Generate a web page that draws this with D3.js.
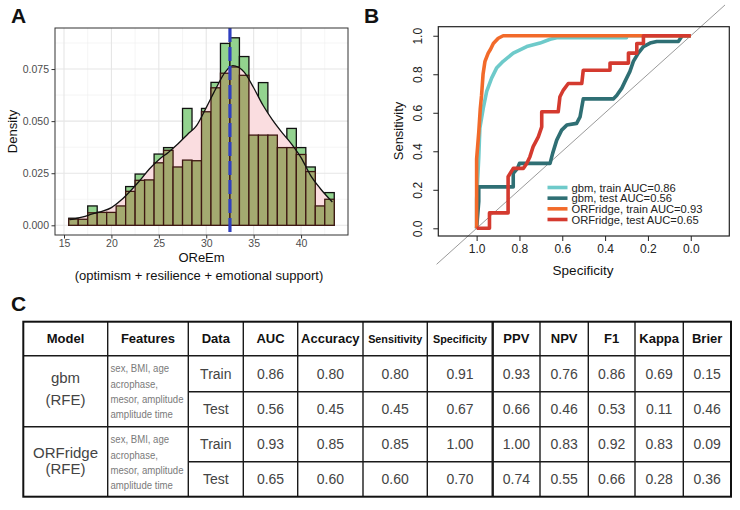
<!DOCTYPE html>
<html><head><meta charset="utf-8">
<script src="https://cdn.jsdelivr.net/npm/d3@7"></script>
<style>
body{margin:0;background:#fff;}
svg{display:block;font-family:"Liberation Sans",Arial,Helvetica,sans-serif;}
</style>
</head><body>
<svg id="fig" width="740" height="510"></svg>
<script>
// ---------------- DATA ----------------
// Panel A: histogram of OReEm (bin centers, width 1)
const binCenters = [16,17,18,19,20,21,22,23,24,25,26,27,28,29,30,31,32,33,34,35,36,37,38,39,40,41,42,43];
const greenDensity = [0.0034,0.0029,0.0093,0.0062,0.0062,0.0093,0.0186,0.0246,0.0218,0.0342,0.0373,0.0280,0.0561,0.0310,0.0561,0.0686,0.0873,0.0900,0.0810,0.0433,0.0685,0.0433,0.0373,0.0465,0.0373,0.0280,0.0093,0.0157];
const overlayDensity = [0.0030,0.0029,0.0060,0.0062,0.0062,0.0093,0.0163,0.0216,0.0218,0.0300,0.0360,0.0280,0.0313,0.0310,0.0545,0.0660,0.0730,0.0760,0.0720,0.0433,0.0433,0.0433,0.0373,0.0373,0.0340,0.0258,0.0093,0.0125];
const densityX = [15.6,16,17,18,19,20,21,22,23,24,25,26,27,28,29,30,31,32,32.8,34,35,36,37,38,39,40,41,42,43.3];
const densityY = [0.0027,0.0030,0.0040,0.0055,0.0067,0.0085,0.0120,0.0165,0.0215,0.0270,0.0315,0.0350,0.0390,0.0435,0.0480,0.0565,0.0655,0.0735,0.0766,0.0735,0.0660,0.0575,0.0505,0.0445,0.0390,0.0325,0.0240,0.0178,0.0112];
const meanScore = 32.5;
const xTicksA = [15,20,25,30,35,40];
const xMinorA = [17.5,22.5,27.5,32.5,37.5,42.5];
const yTicksA = [0,0.025,0.05,0.075];
const yMinorA = [0.0125,0.0375,0.0625,0.0875];

// Panel B: ROC curves, points as [specificity, sensitivity]
const rocGbmTrain = [[1,0],[1,0.15],[0.99,0.37],[0.985,0.52],[0.969,0.624],[0.953,0.711],[0.93,0.78],[0.907,0.832],[0.876,0.867],[0.829,0.91],[0.766,0.944],[0.704,0.962],[0.657,0.982],[0.626,0.99],[0.30,0.99],[0.30,1],[0,1]];
const rocGbmTest = [[1,0],[0.99,0.14],[0.99,0.215],[0.829,0.215],[0.829,0.285],[0.81,0.31],[0.80,0.337],[0.657,0.337],[0.645,0.389],[0.626,0.458],[0.603,0.51],[0.579,0.536],[0.533,0.545],[0.517,0.579],[0.502,0.672],[0.362,0.672],[0.346,0.69],[0.322,0.728],[0.307,0.763],[0.284,0.815],[0.268,0.867],[0.245,0.91],[0.221,0.944],[0.19,0.962],[0.159,0.97],[0.058,0.97],[0.04,1],[0,1]];
const rocOrfTrain = [[1,0],[1,0.36],[0.99,0.5],[0.983,0.62],[0.977,0.69],[0.97,0.8],[0.961,0.867],[0.946,0.91],[0.935,0.93],[0.922,0.96],[0.899,0.987],[0.876,1],[0,1]];
const rocOrfTest = [[1,0],[0.94,0],[0.94,0.08],[0.853,0.08],[0.853,0.268],[0.829,0.311],[0.782,0.311],[0.766,0.337],[0.751,0.372],[0.736,0.424],[0.712,0.475],[0.696,0.527],[0.696,0.605],[0.619,0.605],[0.611,0.683],[0.595,0.718],[0.572,0.752],[0.509,0.752],[0.502,0.821],[0.377,0.821],[0.377,0.858],[0.291,0.858],[0.291,0.91],[0.252,0.91],[0.252,0.96],[0.221,0.96],[0.221,1],[0,1]];
const rocLabels = ["gbm, train AUC=0.86","gbm, test AUC=0.56","ORFridge, train AUC=0.93","ORFridge, test AUC=0.65"];
const rocColors = ["#6ecaca","#2f6f74","#f26a2a","#d43a2f"];
const specTicks = [1,0.8,0.6,0.4,0.2,0];
const sensTicks = [0,0.2,0.4,0.6,0.8,1];

// Panel C: table
const tableHeaders = ["Model","Features","Data","AUC","Accuracy","Sensitivity","Specificity","PPV","NPV","F1","Kappa","Brier"];
const modelNames = ["gbm","ORFridge"];
const featureLines = ["sex, BMI, age","acrophase,","mesor, amplitude","amplitude time"];
const dataSplits = ["Train","Test"];
const gbmTrainVals = [0.86,0.80,0.80,0.91,0.93,0.76,0.86,0.69,0.15];
const gbmTestVals  = [0.56,0.45,0.45,0.67,0.66,0.46,0.53,0.11,0.46];
const orfTrainVals = [0.93,0.85,0.85,1.00,1.00,0.83,0.92,0.83,0.09];
const orfTestVals  = [0.65,0.60,0.60,0.70,0.74,0.55,0.66,0.28,0.36];

// ---------------- DRAW ----------------
const svg = d3.select("#fig");
svg.append("rect").attr("width",740).attr("height",510).attr("fill","#fff");

// panel letters
svg.append("g").selectAll("text").data([["A",11,23],["B",364,23],["C",11,311]]).join("text")
  .attr("x",d=>d[1]).attr("y",d=>d[2]).text(d=>d[0])
  .attr("font-size",21).attr("font-weight","bold").attr("fill","#111");

// ===== Panel A =====
const xA = d3.scaleLinear().domain([14.05,44.95]).range([55,348]);
const yA = d3.scaleLinear().domain([-0.00465,0.0947]).range([235,28]);
const gA = svg.append("g");
gA.append("rect").attr("x",55).attr("y",28).attr("width",293).attr("height",207).attr("fill","#fff");
gA.append("g").selectAll("line").data(xMinorA).join("line")
  .attr("x1",d=>xA(d)).attr("x2",d=>xA(d)).attr("y1",28).attr("y2",235).attr("stroke","#efefef").attr("stroke-width",0.6);
gA.append("g").selectAll("line").data(yMinorA).join("line")
  .attr("y1",d=>yA(d)).attr("y2",d=>yA(d)).attr("x1",55).attr("x2",348).attr("stroke","#efefef").attr("stroke-width",0.6);
gA.append("g").selectAll("line").data(xTicksA).join("line")
  .attr("x1",d=>xA(d)).attr("x2",d=>xA(d)).attr("y1",28).attr("y2",235).attr("stroke","#e6e6e6").attr("stroke-width",1.1);
gA.append("g").selectAll("line").data(yTicksA).join("line")
  .attr("y1",d=>yA(d)).attr("y2",d=>yA(d)).attr("x1",55).attr("x2",348).attr("stroke","#e6e6e6").attr("stroke-width",1.1);

// green histogram
gA.append("g").selectAll("rect").data(binCenters).join("rect")
  .attr("x",d=>xA(d-0.5)).attr("width",d=>xA(d+0.5)-xA(d-0.5))
  .attr("y",(d,i)=>yA(greenDensity[i])).attr("height",(d,i)=>yA(0)-yA(greenDensity[i]))
  .attr("fill","#93d38f").attr("stroke","#111").attr("stroke-width",1.3);
// density fill
const densPts = densityX.map((x,i)=>[x,densityY[i]]);
gA.append("path").datum(densPts)
  .attr("d",d3.area().x(d=>xA(d[0])).y0(yA(0)).y1(d=>yA(d[1])).curve(d3.curveMonotoneX))
  .attr("fill","#fadde0");
// overlay histogram
gA.append("g").selectAll("rect").data(binCenters).join("rect")
  .attr("x",d=>xA(d-0.5)).attr("width",d=>xA(d+0.5)-xA(d-0.5))
  .attr("y",(d,i)=>yA(overlayDensity[i])).attr("height",(d,i)=>yA(0)-yA(overlayDensity[i]))
  .attr("fill","#a4aa70").attr("stroke","#3e1712").attr("stroke-width",1.3);
// density line
gA.append("path").datum(densPts)
  .attr("d",d3.line().x(d=>xA(d[0])).y(d=>yA(d[1])).curve(d3.curveMonotoneX))
  .attr("fill","none").attr("stroke","#111").attr("stroke-width",1.3);
// mean line
gA.append("line").attr("x1",xA(meanScore)).attr("x2",xA(meanScore)).attr("y1",28).attr("y2",235)
  .attr("stroke","#2f3fbf").attr("stroke-width",3.2).attr("stroke-dasharray","14,5");
gA.append("rect").attr("x",55).attr("y",28).attr("width",293).attr("height",207)
  .attr("fill","none").attr("stroke","#333").attr("stroke-width",1);
// axes
const axA_x = gA.append("g").attr("transform","translate(0,235)")
  .call(d3.axisBottom(xA).tickValues(xTicksA).tickSize(3.5).tickPadding(1.5));
const axA_y = gA.append("g").attr("transform","translate(55,0)")
  .call(d3.axisLeft(yA).tickValues(yTicksA).tickFormat(d3.format(".3f")).tickSize(3.5).tickPadding(2.5));
[axA_x,axA_y].forEach(a=>{
  a.select(".domain").remove();
  a.selectAll("line").attr("stroke","#333");
  a.selectAll("text").attr("font-size",10.5).attr("fill","#4d4d4d").attr("font-family","Liberation Sans, Arial, sans-serif");
});
gA.append("text").attr("transform","translate(17,131.5) rotate(-90)").attr("text-anchor","middle")
  .attr("font-size",13).attr("fill","#111").text("Density");
gA.append("text").attr("x",201.5).attr("y",262).attr("text-anchor","middle")
  .attr("font-size",13).attr("fill","#111").text("OReEm");
gA.append("text").attr("x",199).attr("y",280).attr("text-anchor","middle")
  .attr("font-size",13).attr("fill","#111").text("(optimism + resilience + emotional support)");

// ===== Panel B =====
const xB = d3.scaleLinear().domain([1.179,-0.18]).range([438.3,729.3]);
const yB = d3.scaleLinear().domain([-0.04,1.047]).range([236,26.7]);
const gB = svg.append("g");
// diagonal reference (extends into the figure margins)
gB.append("line").attr("x1",xB(1.187)).attr("y1",yB(1-1.187)).attr("x2",xB(-0.16)).attr("y2",yB(1+0.16))
  .attr("stroke","#9a9a9a").attr("stroke-width",1);
const rocLine = d3.line().x(d=>xB(d[0])).y(d=>yB(d[1]));
const rocSets = [rocGbmTrain,rocGbmTest,rocOrfTrain,rocOrfTest];
gB.append("g").selectAll("path").data(rocSets).join("path")
  .attr("d",rocLine).attr("fill","none").attr("stroke",(d,i)=>rocColors[i])
  .attr("stroke-width",3.6).attr("stroke-linejoin","round");
gB.append("rect").attr("x",438.3).attr("y",26.7).attr("width",291).attr("height",209.3)
  .attr("fill","none").attr("stroke","#222").attr("stroke-width",1.2);
const axB_x = gB.append("g").attr("transform","translate(0,236)")
  .call(d3.axisBottom(xB).tickValues(specTicks).tickFormat(d3.format(".1f")).tickSize(5).tickPadding(3));
const axB_y = gB.append("g").attr("transform","translate(438.3,0)")
  .call(d3.axisLeft(yB).tickValues(sensTicks).tickFormat(d3.format(".1f")).tickSize(5));
[axB_x,axB_y].forEach(a=>{
  a.select(".domain").remove();
  a.selectAll("line").attr("stroke","#222");
  a.selectAll("text").attr("font-size",12).attr("fill","#222").attr("font-family","Liberation Sans, Arial, sans-serif");
});
axB_y.selectAll("text").attr("x",null).attr("dy",null).attr("text-anchor","middle")
  .attr("transform","translate(-16,0) rotate(-90)");
gB.append("text").attr("transform","translate(403,131) rotate(-90)").attr("text-anchor","middle")
  .attr("font-size",13).attr("fill","#111").text("Sensitivity");
gB.append("text").attr("x",583).attr("y",275).attr("text-anchor","middle")
  .attr("font-size",13.5).attr("fill","#111").text("Specificity");
// legend
const legY = d3.scalePoint().domain(rocLabels).range([187.5,219.5]);
const leg = gB.append("g").selectAll("g").data(rocLabels).join("g")
  .attr("transform",d=>`translate(0,${legY(d)})`);
leg.append("line").attr("x1",547.5).attr("x2",567.5).attr("stroke",(d,i)=>rocColors[i]).attr("stroke-width",3.6);
leg.append("text").attr("x",571.5).attr("dy","0.36em").attr("font-size",11.2).attr("fill","#222").text(d=>d);

// ===== Panel C: table =====
const colEdges = [23.3,107.7,188.3,243.3,297.7,363,427.3,492.7,540,588.3,635,683.3,731];
const rowEdges = [321.7,355.7,391.7,426.7,461.7,496.7];
const colMid = i => (colEdges[i]+colEdges[i+1])/2;
const rowMid = i => (rowEdges[i]+rowEdges[i+1])/2;
const gC = svg.append("g");
// header
gC.append("g").selectAll("text").data(tableHeaders).join("text")
  .attr("x",(d,i)=>colMid(i)).attr("y",rowMid(0)).attr("dy","0.36em").attr("text-anchor","middle")
  .attr("font-weight","bold").attr("fill","#111")
  .attr("font-size",d=>(d==="Sensitivity"||d==="Specificity")?10.8:13)
  .text(d=>d);
// model names (merged cells)
const modelBlocks = [
  {name:modelNames[0], y1:382.5, y2:404.5, top:rowEdges[1]},
  {name:modelNames[1], y1:457.5, y2:473.5, top:rowEdges[3]}
];
modelBlocks.forEach(m=>{
  gC.append("text").attr("x",colMid(0)).attr("y",m.y1).attr("text-anchor","middle")
    .attr("font-size",15).attr("fill","#444").text(m.name);
  gC.append("text").attr("x",colMid(0)).attr("y",m.y2).attr("text-anchor","middle")
    .attr("font-size",15).attr("fill","#444").text("(RFE)");
  const mid = m.top + 35.5;
  gC.append("g").selectAll("text").data(featureLines).join("text")
    .attr("transform",(d,i)=>`translate(110.5,${mid + (i-1.5)*15.3}) scale(0.85,1)`)
    .attr("dy","0.36em")
    .attr("font-size",11.3).attr("fill","#7a7a7a").text(d=>d);
});
// data rows
const bodyRows = [gbmTrainVals,gbmTestVals,orfTrainVals,orfTestVals];
const fmt = d3.format(".2f");
bodyRows.forEach((vals,r)=>{
  const row = gC.append("g");
  row.append("text").attr("x",colMid(2)).attr("y",rowMid(r+1)).attr("dy","0.36em").attr("text-anchor","middle")
    .attr("font-size",14).attr("fill","#444").text(dataSplits[r%2]);
  row.selectAll("text.v").data(vals).join("text").attr("class","v")
    .attr("x",(d,i)=>colMid(i+3)).attr("y",rowMid(r+1)).attr("dy","0.36em").attr("text-anchor","middle")
    .attr("font-size",14).attr("fill","#444").text(d=>fmt(d));
});
// grid lines
const L = colEdges[0], R = colEdges[colEdges.length-1];
const hLines = [
  [L,R,rowEdges[1],1.4],[colEdges[2],R,rowEdges[2],1.4],[L,R,rowEdges[3],1.4],[colEdges[2],R,rowEdges[4],1.4]
];
gC.append("g").selectAll("line").data(hLines).join("line")
  .attr("x1",d=>d[0]).attr("x2",d=>d[1]).attr("y1",d=>d[2]).attr("y2",d=>d[2])
  .attr("stroke","#1a1a1a").attr("stroke-width",d=>d[3]);
gC.append("g").selectAll("line").data(colEdges.slice(1,-1)).join("line")
  .attr("x1",d=>d).attr("x2",d=>d).attr("y1",rowEdges[0]).attr("y2",rowEdges[5])
  .attr("stroke","#1a1a1a").attr("stroke-width",(d,i)=> i===6 ? 2.4 : 1.4);
gC.append("rect").attr("x",L).attr("y",rowEdges[0]).attr("width",R-L).attr("height",rowEdges[5]-rowEdges[0])
  .attr("fill","none").attr("stroke","#111").attr("stroke-width",2);
</script>
</body></html>
